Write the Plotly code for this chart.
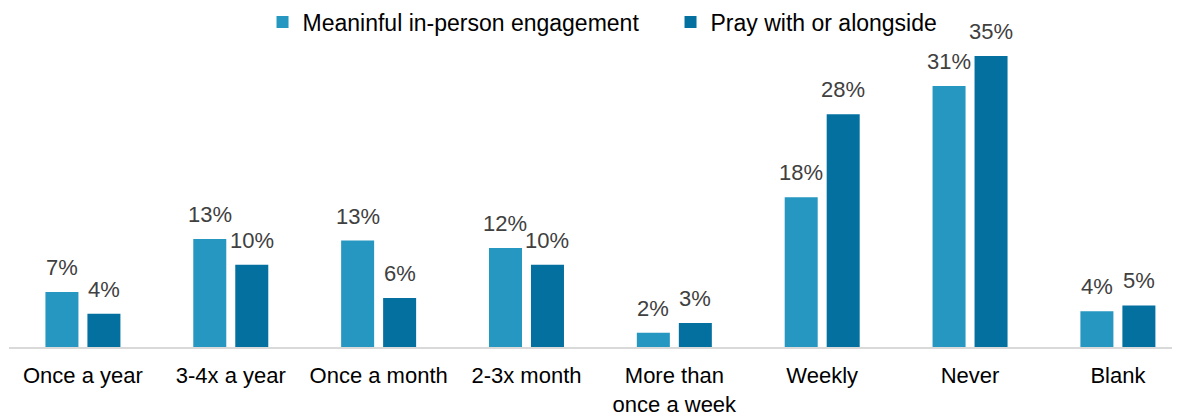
import plotly.graph_objects as go

categories = ["Once a year", "3-4x a year", "Once a month", "2-3x month",
              "More than<br>once a week", "Weekly", "Never", "Blank"]
series_names = ["Meaninful in-person engagement", "Pray with or alongside"]
meaningful = [6.6, 13.0, 12.8, 11.9, 1.7, 18.0, 31.4, 4.3]
pray = [4.0, 9.9, 5.9, 9.9, 2.9, 28.0, 35.0, 5.0]

colors = ["#2697C0", "#0370A0"]
FONT = "Liberation Sans"

fig = go.Figure()
for name, vals, col in zip(series_names, [meaningful, pray], colors):
    fig.add_trace(go.Bar(
        x=categories, y=vals, name=name,
        marker=dict(color=col, line=dict(width=0)),
        cliponaxis=False,
    ))

# value labels placed over each bar of the group (bars are offset ±21px from the category centre)
for vals, xs in zip([meaningful, pray], [-21, 21]):
    for c, v in zip(categories, vals):
        fig.add_annotation(x=c, y=v, text=f"{v:.0f}%", showarrow=False,
                           xanchor="center", yanchor="bottom", xshift=xs, yshift=10,
                           font=dict(family=FONT, size=22, color="#404040"))

# page body adds an 8px margin, so the figure is sized 8px smaller
fig.update_layout(
    width=1172, height=408,
    margin=dict(l=1, r=0, t=6, b=69, autoexpand=False),
    paper_bgcolor="white", plot_bgcolor="white",
    barmode="group", bargap=0.432, bargroupgap=0.214,
    font=dict(family=FONT, size=22, color="#000000"),
    showlegend=True,
    legend=dict(orientation="h", x=0.2165, xanchor="left",
                yref="container", y=0.9657, yanchor="middle",
                font=dict(family=FONT, size=23, color="#000000"),
                entrywidth=363, bgcolor="rgba(0,0,0,0)", itemclick=False),
    xaxis=dict(range=[-0.5, 7.42], showline=True, linecolor="#D9D9D9", linewidth=2,
               showgrid=False, ticks="", tickfont=dict(family=FONT, size=22, color="#000000"),
               ticklabelstandoff=8, automargin=False),
    yaxis=dict(range=[0, 40.05], visible=False, showgrid=False, zeroline=False,
               automargin=False),
)

fig.write_html("out.html")
